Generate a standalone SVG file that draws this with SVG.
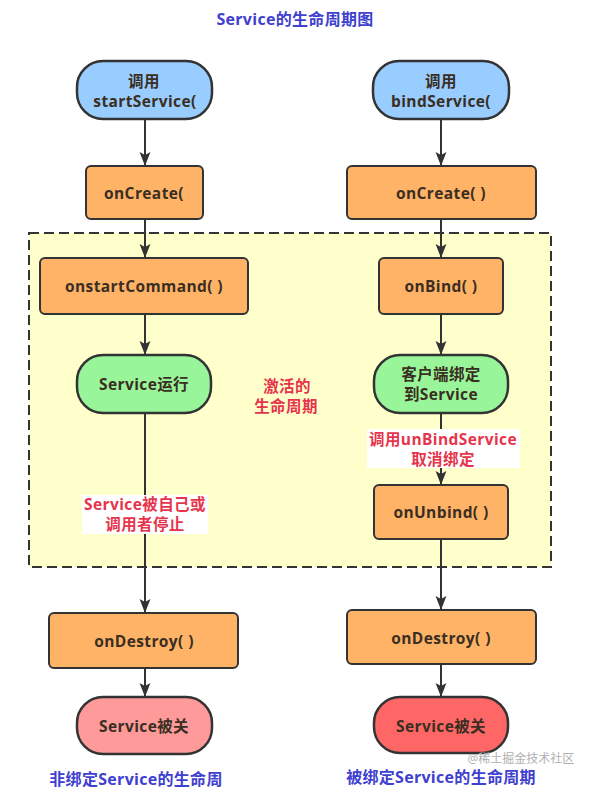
<svg xmlns="http://www.w3.org/2000/svg" width="595" height="793" viewBox="0 0 595 793">
<defs>
<marker id="ah" markerUnits="userSpaceOnUse" markerWidth="14" markerHeight="18" viewBox="0 0 18 14" refX="18" refY="7" orient="auto">
<path d="M0,0 L18,7 L0,14 L4,7 Z" fill="#333"/>
</marker>
</defs>
<style>
text{font-family:"Open Sans","Noto Sans CJK SC",sans-serif;font-weight:bold;text-anchor:middle;dominant-baseline:central}
.nt{font-size:15.5px;letter-spacing:0.4px;fill:#3a2e22}
.start{fill:#99ccff;stroke:#333;stroke-width:2.5}
.box{fill:#ffb366;stroke:#333;stroke-width:2}
.run{fill:#99f599;stroke:#333;stroke-width:2.5}
.end1{fill:#ff9a9a;stroke:#333;stroke-width:2.5}
.end2{fill:#ff6666;stroke:#333;stroke-width:2.5}
.red{font-size:15.5px;letter-spacing:0.4px;fill:#e6344c}
.blue{font-size:16px;letter-spacing:0.3px;fill:#4040d0}
.conn{stroke:#333;stroke-width:2;fill:none}
</style>
<rect width="595" height="793" fill="#ffffff"/>
<text class="blue" x="295" y="19">Service的生命周期图</text>

<g id="active-area">
<rect x="29" y="233" width="522" height="334" fill="#ffffcc" stroke="#333" stroke-width="2" stroke-dasharray="10,5"/>
<text class="red" x="287" y="386">激活的</text>
<text class="red" x="286" y="406">生命周期</text>
</g>

<g id="connectors">
<line class="conn" x1="145" y1="119" x2="145" y2="166" marker-end="url(#ah)"/>
<line class="conn" x1="145" y1="219" x2="145" y2="258" marker-end="url(#ah)"/>
<line class="conn" x1="145" y1="314" x2="145" y2="355" marker-end="url(#ah)"/>
<line class="conn" x1="145" y1="413" x2="145" y2="613" marker-end="url(#ah)"/>
<line class="conn" x1="145" y1="668" x2="145" y2="697" marker-end="url(#ah)"/>
<line class="conn" x1="441" y1="119" x2="441" y2="166" marker-end="url(#ah)"/>
<line class="conn" x1="441" y1="219" x2="441" y2="258" marker-end="url(#ah)"/>
<line class="conn" x1="441" y1="314" x2="441" y2="355" marker-end="url(#ah)"/>
<line class="conn" x1="441" y1="413" x2="441" y2="485" marker-end="url(#ah)"/>
<line class="conn" x1="441" y1="539" x2="441" y2="610" marker-end="url(#ah)"/>
<line class="conn" x1="441" y1="664" x2="441" y2="697" marker-end="url(#ah)"/>
<g id="label-stop">
<rect x="82" y="495" width="126" height="39" fill="#ffffff"/>
<text class="red" x="145" y="504">Service被自己或</text>
<text class="red" x="145" y="524">调用者停止</text>
</g>
<g id="label-unbind">
<rect x="367" y="429" width="153" height="39" fill="#ffffff"/>
<text class="red" x="443" y="439">调用unBindService</text>
<text class="red" x="443" y="459">取消绑定</text>
</g>
</g>

<g id="start-service">
<rect class="start" x="77" y="61" width="135" height="58" rx="26"/>
<text class="nt" x="144" y="81">调用</text>
<text class="nt" x="145" y="101">startService(</text>
</g>
<g id="oncreate-left">
<rect class="box" x="86" y="166" width="117" height="53" rx="5"/>
<text class="nt" x="144" y="193">onCreate(</text>
</g>
<g id="onstartcommand">
<rect class="box" x="40" y="258" width="208" height="56" rx="5"/>
<text class="nt" x="144" y="286">onstartCommand( )</text>
</g>
<g id="service-running">
<rect class="run" x="77" y="355" width="134" height="58" rx="26"/>
<text class="nt" x="144" y="384">Service运行</text>
</g>
<g id="ondestroy-left">
<rect class="box" x="49" y="613" width="189" height="55" rx="5"/>
<text class="nt" x="144" y="641">onDestroy( )</text>
</g>
<g id="service-closed-left">
<rect class="end1" x="77" y="697" width="135" height="57" rx="26"/>
<text class="nt" x="144" y="726">Service被关</text>
</g>
<text class="blue" x="136" y="779">非绑定Service的生命周</text>

<g id="bind-service">
<rect class="start" x="373" y="61" width="136" height="58" rx="26"/>
<text class="nt" x="441" y="81">调用</text>
<text class="nt" x="441" y="101">bindService(</text>
</g>
<g id="oncreate-right">
<rect class="box" x="347" y="166" width="189" height="53" rx="5"/>
<text class="nt" x="441" y="193">onCreate( )</text>
</g>
<g id="onbind">
<rect class="box" x="379" y="258" width="124" height="56" rx="5"/>
<text class="nt" x="441" y="286">onBind( )</text>
</g>
<g id="client-bound">
<rect class="run" x="374" y="355" width="134" height="58" rx="26"/>
<text class="nt" x="441" y="374">客户端绑定</text>
<text class="nt" x="441" y="394">到Service</text>
</g>
<g id="onunbind">
<rect class="box" x="374" y="485" width="134" height="54" rx="5"/>
<text class="nt" x="441" y="512">onUnbind( )</text>
</g>
<g id="ondestroy-right">
<rect class="box" x="347" y="610" width="189" height="54" rx="5"/>
<text class="nt" x="441" y="638">onDestroy( )</text>
</g>
<g id="service-closed-right">
<rect class="end2" x="374" y="697" width="134" height="56" rx="26"/>
<text class="nt" x="441" y="726">Service被关</text>
</g>
<text class="blue" x="441" y="777">被绑定Service的生命周期</text>
<text x="521" y="758" style="font-size:12px;font-weight:normal;fill:#b0b0b0">@稀土掘金技术社区</text>
</svg>
